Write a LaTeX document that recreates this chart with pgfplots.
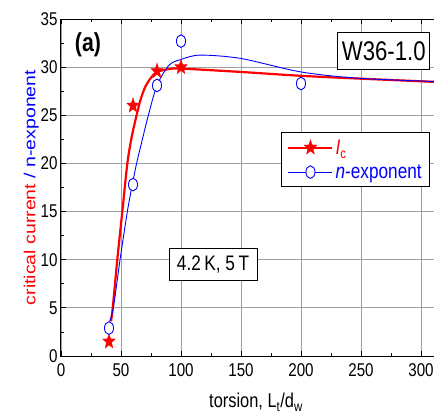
\documentclass[border=0pt]{standalone}
\usepackage{fontspec}
\setmainfont{Liberation Sans}[FakeStretch=0.82]
\newfontfamily\plainsans{Liberation Sans}
\usepackage{graphicx}
\usepackage{pgfplots}
\pgfplotsset{compat=1.18}

\pgfdeclareplotmark{fstar}{%
  \pgfpathmoveto{\pgfpointpolar{90}{\pgfplotmarksize}}%
  \pgfpathlineto{\pgfpointpolar{126}{0.42\pgfplotmarksize}}%
  \pgfpathlineto{\pgfpointpolar{162}{\pgfplotmarksize}}%
  \pgfpathlineto{\pgfpointpolar{198}{0.42\pgfplotmarksize}}%
  \pgfpathlineto{\pgfpointpolar{234}{\pgfplotmarksize}}%
  \pgfpathlineto{\pgfpointpolar{270}{0.42\pgfplotmarksize}}%
  \pgfpathlineto{\pgfpointpolar{306}{\pgfplotmarksize}}%
  \pgfpathlineto{\pgfpointpolar{342}{0.42\pgfplotmarksize}}%
  \pgfpathlineto{\pgfpointpolar{18}{\pgfplotmarksize}}%
  \pgfpathlineto{\pgfpointpolar{54}{0.42\pgfplotmarksize}}%
  \pgfpathclose
  \pgfusepathqfillstroke}

\begin{document}
\begin{tikzpicture}
\begin{axis}[
  scale only axis,
  width=390pt, height=337pt,
  xmin=0, xmax=325, ymin=0, ymax=35,
  xtick={0,50,...,300}, ytick={0,5,...,35},
  minor x tick num=1, minor y tick num=1,
  tick align=inside,
  major tick length=5pt, minor tick length=3pt,
  every tick/.style={black, line width=0.8pt},
  grid=major,
  major grid style={gray!75, line width=0.8pt},
  axis line style={line width=1pt},
  /pgf/number format/assume math mode=true,
  tick label style={font=\fontsize{18.5}{18.5}\selectfont},
  xticklabel style={yshift=-4pt},
  xlabel={torsion, L\textsubscript{t}/d\textsubscript{w}},
  xlabel style={font=\fontsize{20}{20}\selectfont, yshift=-10pt},
  ylabel={\scalebox{1}[0.82]{\plainsans\fontsize{19.5}{19.5}\selectfont\textcolor{red}{critical current} \textcolor{blue}{/ n-exponent}}},
  ylabel style={yshift=-5pt},
  legend style={at={(rel axis cs:0.564,0.664)}, anchor=north west,
    draw=black, line width=0.8pt, fill=white,
    font=\fontsize{21}{21}\selectfont, cells={anchor=west},
    row sep=5pt, inner xsep=6pt, inner ysep=5pt},
  legend image code/.code={%
    \draw[mark repeat=2, mark phase=2, #1] plot coordinates {(0pt,0pt) (22pt,0pt) (44pt,0pt)};},
]
% fitted curves
\addplot[red, line width=2.2pt, smooth, forget plot] coordinates {
  (41.7,3.6) (43.1,5) (46.9,10) (51.1,15) (55.3,20) (59,22.8) (63,25)
  (66,26.5) (70,27.9) (75,28.9) (80,29.5) (90,29.8) (100,29.85) (150,29.5)
  (200,29.1) (250,28.8) (325,28.4)};
\addplot[blue, line width=0.9pt, smooth, forget plot] coordinates {
  (40,3.4) (43.6,5) (49.2,10) (55.3,15) (59.4,17.8) (63,20) (68,22.6)
  (72.8,25) (80,28.1) (90,30.2) (100,30.8) (116,31.25) (150,30.9)
  (200,29.5) (250,28.83) (325,28.45)};
% measured points
\addplot[only marks, mark=fstar, mark size=8pt, red,
  mark options={fill=red, line width=0.3pt, xscale=0.82}, forget plot] coordinates {
  (40,1.5) (60,26) (80,29.6) (100,30)};
\addplot[only marks, mark=*, mark size=6.3pt, blue,
  mark options={fill=white, draw=blue, line width=0.9pt, xscale=0.72}, forget plot] coordinates {
  (40,2.9) (60,17.8) (80,28.1) (100,32.7) (200,28.3)};
% legend
\addlegendimage{red, line width=2.2pt, mark=fstar, mark size=8pt, mark options={fill=red, line width=0.3pt, xscale=0.82}}
\addlegendentry{\textcolor{red}{\textit{I}\raisebox{-4pt}{\fontsize{14}{14}\selectfont c}}}
\addlegendimage{blue, line width=0.9pt, mark=*, mark size=6.3pt, mark options={fill=white, draw=blue, xscale=0.72}}
\addlegendentry{\textcolor{blue}{\textit{n}-exponent}}
% annotations
\node[font=\fontsize{26}{26}\bfseries\selectfont] at (axis cs:22.5,32.3) {(a)};
\node[draw=black, line width=0.8pt, fill=white, minimum width=92pt, minimum height=37pt,
  inner sep=0pt, font=\fontsize{27}{27}\selectfont] at (axis cs:269,31.7) {W36-1.0};
\node[draw=black, line width=0.8pt, fill=white, minimum width=88pt, minimum height=32pt,
  inner sep=0pt, font=\fontsize{21}{21}\selectfont] at (axis cs:126.7,9.55) {4.2\,K, 5\,T};
\coordinate (bl) at (rel axis cs:0,0);
\coordinate (tr) at (rel axis cs:1,1);
\end{axis}
\pgfresetboundingbox
\path ([shift={(-61pt,-59pt)}]bl) rectangle ([shift={(-17pt,19pt)}]tr);
\end{tikzpicture}
\end{document}
